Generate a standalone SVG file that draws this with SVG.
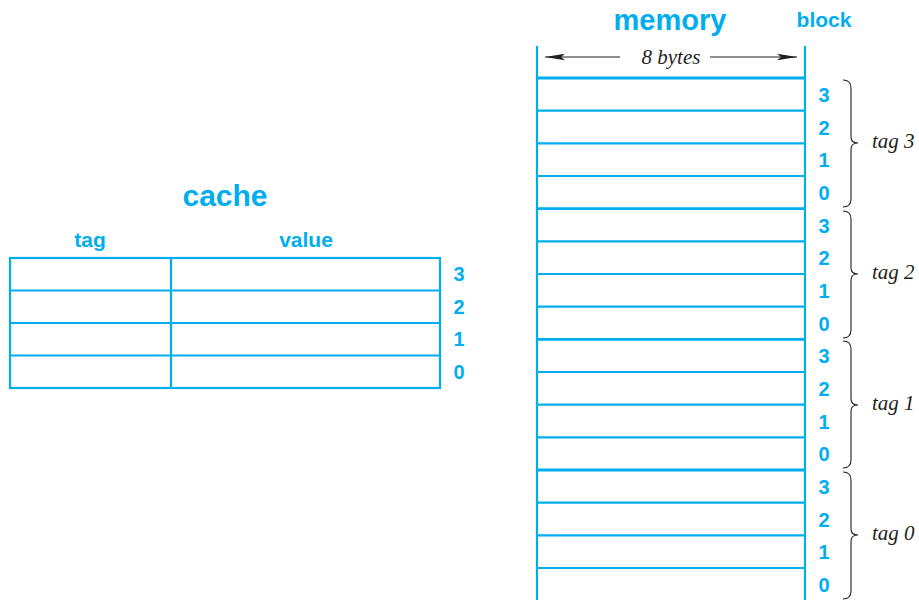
<svg xmlns="http://www.w3.org/2000/svg" width="919" height="600" viewBox="0 0 919 600">
<style>
.ln{stroke:#00AEEF;stroke-width:2.2;fill:none}
.tk{stroke:#00AEEF;stroke-width:2.8;fill:none}
.bl{font-family:"Liberation Sans",Arial,sans-serif;font-weight:bold;fill:#00AEEF}
.it{font-family:"Liberation Serif","Times New Roman",serif;font-style:italic;fill:#231F20;font-size:21px}
.br{stroke:#231F20;stroke-width:1.1;fill:none}
</style>
<defs>
<marker id="ah" viewBox="0 0 20 8" refX="20" refY="4" markerWidth="20" markerHeight="8" markerUnits="userSpaceOnUse" orient="auto-start-reverse">
<path d="M0,0.8 L20,4 L0,7.2 L4,4 Z" fill="#231F20"/>
</marker>
</defs>
<rect width="919" height="600" fill="#fff"/>
<g id="cache">
<text class="bl" x="225" y="206" font-size="30" text-anchor="middle">cache</text>
<text class="bl" x="90" y="247" font-size="21" text-anchor="middle">tag</text>
<text class="bl" x="306" y="247" font-size="21" text-anchor="middle">value</text>
<rect class="ln" x="10" y="258" width="430" height="130"/>
<line class="ln" x1="171" y1="258" x2="171" y2="388"/>
<line class="ln" x1="10" y1="290.5" x2="440" y2="290.5"/>
<line class="ln" x1="10" y1="323" x2="440" y2="323"/>
<line class="ln" x1="10" y1="355.5" x2="440" y2="355.5"/>
<g class="bl" font-size="20" text-anchor="middle">
<text x="459" y="281">3</text>
<text x="459" y="314">2</text>
<text x="459" y="346">1</text>
<text x="459" y="379">0</text>
</g>
</g>
<g id="memory">
<text class="bl" x="670" y="30" font-size="29" text-anchor="middle">memory</text>
<text class="bl" x="824" y="27" font-size="21" text-anchor="middle">block</text>
<line class="ln" x1="537" y1="46" x2="537" y2="600"/>
<line class="ln" x1="805" y1="46" x2="805" y2="600"/>
<line class="tk" x1="537" y1="78" x2="805" y2="78"/>
<g class="ln">
<line x1="537" y1="110.6" x2="805" y2="110.6"/>
<line x1="537" y1="143.3" x2="805" y2="143.3"/>
<line x1="537" y1="176" x2="805" y2="176"/>
<line x1="537" y1="241.3" x2="805" y2="241.3"/>
<line x1="537" y1="274" x2="805" y2="274"/>
<line x1="537" y1="306.6" x2="805" y2="306.6"/>
<line x1="537" y1="372" x2="805" y2="372"/>
<line x1="537" y1="404.6" x2="805" y2="404.6"/>
<line x1="537" y1="437.3" x2="805" y2="437.3"/>
<line x1="537" y1="502.6" x2="805" y2="502.6"/>
<line x1="537" y1="535.3" x2="805" y2="535.3"/>
<line x1="537" y1="568" x2="805" y2="568"/>
</g>
<line class="tk" x1="537" y1="208.6" x2="805" y2="208.6"/>
<line class="tk" x1="537" y1="339.3" x2="805" y2="339.3"/>
<line class="tk" x1="537" y1="470" x2="805" y2="470"/>
<g class="bl" font-size="20" text-anchor="middle">
<text x="824" y="102">3</text><text x="824" y="135">2</text><text x="824" y="167">1</text><text x="824" y="200">0</text>
<text x="824" y="233">3</text><text x="824" y="265">2</text><text x="824" y="298">1</text><text x="824" y="331">0</text>
<text x="824" y="363">3</text><text x="824" y="396">2</text><text x="824" y="429">1</text><text x="824" y="461">0</text>
<text x="824" y="494">3</text><text x="824" y="527">2</text><text x="824" y="559">1</text><text x="824" y="592">0</text>
</g>
</g>
<g id="dimension">
<line x1="620" y1="57" x2="545" y2="57" stroke="#231F20" stroke-width="1" marker-end="url(#ah)"/>
<line x1="710" y1="57" x2="797" y2="57" stroke="#231F20" stroke-width="1" marker-end="url(#ah)"/>
<text class="it" x="671" y="64" text-anchor="middle">8 bytes</text>
</g>
<g id="braces">
<path class="br" d="M843,80 Q851,80 851,88 L851,137 Q851,143 858,143 Q851,143 851,149 L851,199 Q851,207 843,207"/>
<path class="br" d="M843,211 Q851,211 851,219 L851,268 Q851,274 858,274 Q851,274 851,280 L851,330 Q851,338 843,338"/>
<path class="br" d="M843,341 Q851,341 851,349 L851,399 Q851,405 858,405 Q851,405 851,411 L851,460 Q851,468 843,468"/>
<path class="br" d="M843,472 Q851,472 851,480 L851,529 Q851,535 858,535 Q851,535 851,541 L851,591 Q851,599 843,599"/>
<text class="it" x="872" y="148">tag 3</text>
<text class="it" x="872" y="279">tag 2</text>
<text class="it" x="872" y="410">tag 1</text>
<text class="it" x="872" y="540">tag 0</text>
</g>
</svg>
